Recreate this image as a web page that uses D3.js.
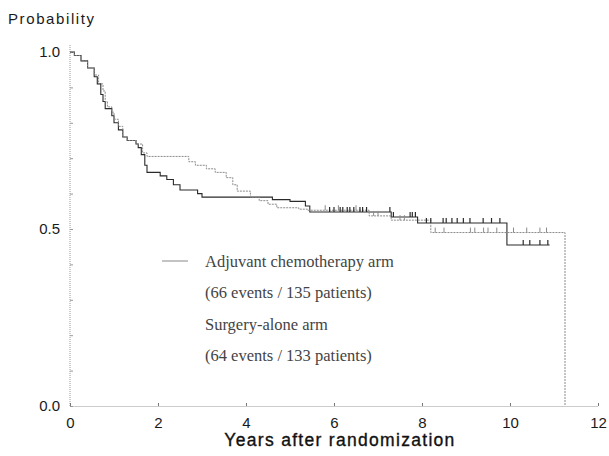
<!DOCTYPE html>
<html>
<head>
<meta charset="utf-8">
<script src="https://cdn.jsdelivr.net/npm/d3@7"></script>
<style>
  html, body { margin: 0; padding: 0; background: #fff; }
  svg { display: block; }
</style>
</head>
<body>
<svg id="chart" width="609" height="456"></svg>
<script>
// ---- data ----
const adjTimes = [0, 0.1, 0.25, 0.4, 0.55, 0.65, 0.75, 0.8, 0.85, 0.95, 1.0, 1.1, 1.2, 1.3, 1.5, 1.65, 1.75, 2.7, 2.85, 3.1, 3.3, 3.55, 3.7, 3.8, 4.1, 4.3, 4.5, 4.7, 5.2, 5.4, 6.8, 7.3, 8.2, 11.25];
const adjSurv  = [1.0, 0.99, 0.975, 0.955, 0.935, 0.91, 0.89, 0.86, 0.845, 0.83, 0.81, 0.79, 0.76, 0.75, 0.74, 0.715, 0.705, 0.69, 0.68, 0.67, 0.66, 0.645, 0.625, 0.607, 0.59, 0.58, 0.57, 0.56, 0.556, 0.553, 0.537, 0.525, 0.49, 0.0];
const adjCensor = [5.8, 6.1, 6.5, 6.9, 7.0, 7.5, 7.6, 8.3, 8.5, 9.1, 9.2, 9.4, 9.5, 9.7, 10.08, 10.38, 10.68, 10.83];

const surgTimes = [0, 0.1, 0.25, 0.4, 0.55, 0.62, 0.7, 0.75, 0.8, 0.95, 1.0, 1.1, 1.2, 1.3, 1.5, 1.55, 1.62, 1.7, 1.75, 2.05, 2.2, 2.35, 2.5, 2.9, 3.0, 4.6, 5.0, 5.35, 5.45, 7.3, 7.9, 9.93, 10.9];
const surgSurv  = [1.0, 0.99, 0.975, 0.955, 0.93, 0.91, 0.88, 0.86, 0.84, 0.82, 0.80, 0.78, 0.76, 0.75, 0.74, 0.73, 0.71, 0.68, 0.66, 0.65, 0.64, 0.625, 0.61, 0.60, 0.59, 0.583, 0.578, 0.565, 0.548, 0.534, 0.517, 0.455, 0.455];
const surgCensor = [5.9, 6.0, 6.14, 6.2, 6.3, 6.36, 6.45, 6.59, 6.65, 6.74, 7.27, 7.35, 7.73, 7.78, 7.85, 8.1, 8.2, 8.48, 8.55, 8.68, 8.8, 8.94, 9.09, 9.39, 9.58, 9.77, 10.3, 10.45, 10.68, 10.86];

const xTickValues = [0, 2, 4, 6, 8, 10, 12];
const yLabelValues = [0.0, 0.5, 1.0];
const yMinorValues = [0, 0.1, 0.2, 0.3, 0.4, 0.5, 0.6, 0.7, 0.8, 0.9, 1.0];

const legendLines = ["Adjuvant chemotherapy arm", "(66 events / 135 patients)", "Surgery-alone arm", "(64 events / 133 patients)"];

// ---- layout ----
const svg = d3.select("#chart");
const x = d3.scaleLinear().domain([0, 12]).range([70, 598]);
const y = d3.scaleLinear().domain([0, 1]).range([406, 52]);

const sans = "'Liberation Sans', Arial, sans-serif";
const serif = "'Liberation Serif', 'Times New Roman', serif";

// y axis: dotted line with small inward ticks
const yMinor = svg.append("g").attr("transform", `translate(${x(0)},0)`)
  .call(d3.axisRight(y).tickValues(yMinorValues).tickSize(3).tickFormat(""));
yMinor.select(".domain").remove();
yMinor.selectAll(".tick line").attr("stroke", "#999");
svg.append("line").attr("x1", x(0)).attr("x2", x(0)).attr("y1", 45).attr("y2", y(0))
  .attr("stroke", "#999").attr("stroke-dasharray", "1,1");

const yLab = svg.append("g").attr("transform", `translate(${x(0)},0)`)
  .call(d3.axisLeft(y).tickValues(yLabelValues).tickSize(0).tickPadding(10).tickFormat(d3.format(".1f")));
yLab.select(".domain").remove();
yLab.selectAll("text").attr("font-family", sans).attr("font-size", 15).attr("fill", "#1a1a1a");

// x axis
const xAx = svg.append("g").attr("transform", `translate(0,${y(0)})`)
  .call(d3.axisBottom(x).tickValues(xTickValues).tickSizeInner(-3).tickSizeOuter(0).tickPadding(11));
xAx.select(".domain").attr("stroke", "#999").attr("stroke-dasharray", "1,1");
xAx.selectAll(".tick line").attr("stroke", "#777");
xAx.selectAll("text").attr("font-family", sans).attr("font-size", 15).attr("fill", "#1a1a1a");

// titles
svg.append("text").attr("x", 8).attr("y", 24).text("Probability")
  .attr("font-family", sans).attr("font-size", 15).attr("letter-spacing", "1.6px").attr("fill", "#1a1a1a");
svg.append("text").attr("x", 340).attr("y", 446).attr("text-anchor", "middle").text("Years after randomization")
  .attr("font-family", sans).attr("font-size", 17.5).attr("letter-spacing", "1.3px")
  .attr("fill", "#111").attr("stroke", "#111").attr("stroke-width", 0.35);

// curves
const line = d3.line().x(d => x(d[0])).y(d => y(d[1])).curve(d3.curveStepAfter);
const adjPts = adjTimes.map((t, i) => [t, adjSurv[i]]);
const surgPts = surgTimes.map((t, i) => [t, surgSurv[i]]);

function survAt(times, surv, t) {
  const i = d3.bisectRight(times, t) - 1;
  return surv[Math.max(0, i)];
}

svg.append("path").attr("d", line(surgPts)).attr("fill", "none")
  .attr("stroke", "#2a2a2a").attr("stroke-width", 1.1);
svg.append("path").attr("d", line(adjPts)).attr("fill", "none")
  .attr("stroke", "#8a8a8a").attr("stroke-width", 1).attr("stroke-dasharray", "2,1");

// censor marks
svg.append("g").selectAll("line").data(surgCensor).join("line")
  .attr("x1", d => x(d)).attr("x2", d => x(d))
  .attr("y1", d => y(survAt(surgTimes, surgSurv, d)) - 5)
  .attr("y2", d => y(survAt(surgTimes, surgSurv, d)))
  .attr("stroke", "#2a2a2a").attr("stroke-width", 1.2);
svg.append("g").selectAll("line").data(adjCensor).join("line")
  .attr("x1", d => x(d)).attr("x2", d => x(d))
  .attr("y1", d => y(survAt(adjTimes, adjSurv, d)) - 5)
  .attr("y2", d => y(survAt(adjTimes, adjSurv, d)))
  .attr("stroke", "#8a8a8a").attr("stroke-width", 1);

// legend
svg.append("line").attr("x1", 162).attr("x2", 188).attr("y1", 261).attr("y2", 261)
  .attr("stroke", "#888").attr("stroke-width", 1);
svg.append("g").selectAll("text").data(legendLines).join("text")
  .attr("x", 205).attr("y", (d, i) => 267 + i * 31.3)
  .text(d => d)
  .attr("font-family", serif).attr("font-size", 16.5).attr("fill", "#444");
</script>
</body>
</html>
